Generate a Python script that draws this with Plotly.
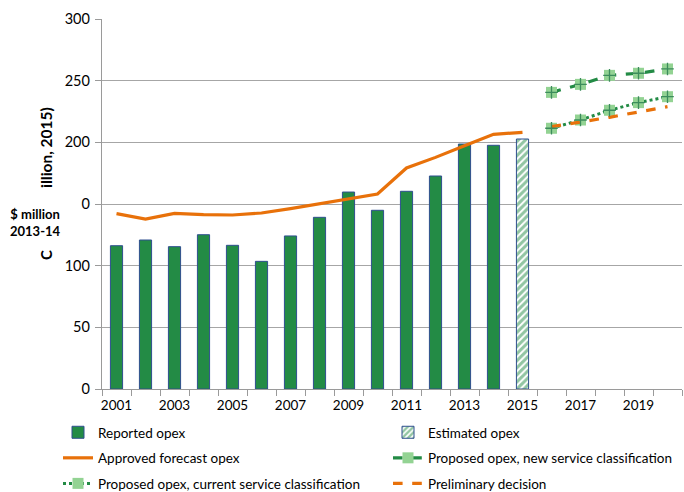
import plotly.graph_objects as go

years_hist = list(range(2001, 2015))
reported_opex = [116.2, 120.8, 115.4, 125.1, 116.5, 103.5, 124.1, 139.2, 159.7, 144.9, 160.3, 172.7, 198.6, 197.6]
est_years = [2015]
estimated_opex = [202.7]
approved_years = list(range(2001, 2016))
approved_forecast = [142.2, 137.8, 142.4, 141.4, 141.1, 142.7, 146.2, 150.3, 154.3, 158.1, 179.2, 187.8, 197.3, 206.5, 208.1]
fc_years = [2016, 2017, 2018, 2019, 2020]
proposed_new = [240.5, 247.0, 254.3, 256.0, 259.5]
proposed_current = [211.4, 218.1, 226.0, 232.2, 237.0]
preliminary = [212.7, 216.2, 220.3, 224.6, 228.9]
x_ticks = list(range(2001, 2021, 2))
y_ticks = [0, 50, 100, 150, 200, 250, 300]
y_ticktext = ["0", "50", "100", "0", "200", "250", "300"]

GREEN = "#238B45"
OUTLINE = "#2F4F8F"
ORANGE = "#E8710A"
LIGHTG = "#93D393"
CROSS = "#3C8C5C"
FONT = "Lato"

W, H = 684, 492
L, R, T, B = 102, 2, 19, 103
pw, ph = W - L - R, H - T - B

def px_x(p):
    return (p - L) / pw

def px_y(p):
    return (H - B - p) / ph

fig = go.Figure()

fig.add_trace(go.Bar(
    x=years_hist, y=reported_opex, name="Reported opex", width=0.42,
    marker=dict(color=GREEN, line=dict(color=OUTLINE, width=1)),
    legend="legend", legendgroup="a",
))
fig.add_trace(go.Scatter(
    x=approved_years, y=approved_forecast, name="Approved forecast opex",
    mode="lines", line=dict(color=ORANGE, width=3.2),
    legend="legend", legendgroup="b",
))
fig.add_trace(go.Scatter(
    x=fc_years, y=proposed_current, name="Proposed opex, current service classification",
    mode="lines+markers", line=dict(color=GREEN, width=3, dash="dot"),
    marker=dict(symbol="square", size=11, color=LIGHTG, line=dict(width=0)),
    legend="legend", legendgroup="c",
))
fig.add_trace(go.Bar(
    x=est_years, y=estimated_opex, name="Estimated opex", width=0.42,
    marker=dict(color="white", line=dict(color=OUTLINE, width=1),
                pattern=dict(shape="/", fgcolor=GREEN, bgcolor="white", size=5, solidity=0.6)),
    legend="legend2", legendgroup="d",
))
fig.add_trace(go.Scatter(
    x=fc_years, y=proposed_new, name="Proposed opex, new service classification",
    mode="lines+markers", line=dict(color=GREEN, width=3.2, dash="dash"),
    marker=dict(symbol="square", size=11, color=LIGHTG, line=dict(width=0)),
    legend="legend2", legendgroup="e",
))
fig.add_trace(go.Scatter(
    x=fc_years, y=preliminary, name="Preliminary decision",
    mode="lines", line=dict(color=ORANGE, width=3.2, dash="dash"),
    legend="legend2", legendgroup="f",
))
# cross glyphs on the forecast markers
for ys in (proposed_new, proposed_current):
    fig.add_trace(go.Scatter(
        x=fc_years, y=ys, mode="markers", showlegend=False, hoverinfo="skip",
        marker=dict(symbol="cross-thin-open", size=9, color=CROSS, line=dict(color=CROSS, width=1.3)),
    ))

fig.update_layout(
    width=W, height=H,
    margin=dict(l=L, r=R, t=T, b=B, autoexpand=False),
    paper_bgcolor="white", plot_bgcolor="white",
    font=dict(family=FONT, size=13, color="#000000"),
    showlegend=True,
    legend=dict(xref="container", yref="container", x=58 / W, y=(H - 417) / H,
                xanchor="left", yanchor="top",
                orientation="v", tracegroupgap=5, font=dict(size=13.5),
                bgcolor="rgba(0,0,0,0)", itemwidth=30),
    legend2=dict(xref="container", yref="container", x=388 / W, y=(H - 417) / H,
                 xanchor="left", yanchor="top",
                 orientation="v", tracegroupgap=5, font=dict(size=13.5),
                 bgcolor="rgba(0,0,0,0)", itemwidth=30),
)

fig.update_xaxes(
    range=[2000.5, 2020.5], tickvals=x_ticks, ticktext=[str(v) for v in x_ticks],
    ticks="", showgrid=False, showline=True, linecolor="#9A9A9A", linewidth=1.3,
    tickfont=dict(size=13.5), ticklabelstandoff=4, zeroline=False,
    minor=dict(tick0=2000.5, dtick=1, ticks="outside", ticklen=6, tickcolor="#9A9A9A", tickwidth=1.3, showgrid=False),
)
fig.update_yaxes(
    range=[0, 300], tickvals=y_ticks, ticktext=y_ticktext,
    ticks="outside", ticklen=6, tickcolor="#9A9A9A", tickwidth=1.3,
    showgrid=True, gridcolor="#A6A6A6", gridwidth=1.3,
    showline=True, linecolor="#9A9A9A", linewidth=1.3, zeroline=False,
    tickfont=dict(size=14.5), ticklabelstandoff=2,
)

fig.add_annotation(text="<b>$ million<br>2013-14</b>", xref="paper", yref="paper",
                   x=px_x(35), y=px_y(223), showarrow=False, font=dict(size=13),
                   align="center", xanchor="center", yanchor="middle")
fig.add_annotation(text="<b>C</b>", xref="paper", yref="paper",
                   x=px_x(46), y=px_y(255), showarrow=False, font=dict(size=15),
                   textangle=-90, xanchor="center", yanchor="middle")
fig.add_annotation(text="<b>illion, 2015)</b>", xref="paper", yref="paper",
                   x=px_x(46), y=px_y(148), showarrow=False, font=dict(size=15.5),
                   textangle=-90, xanchor="center", yanchor="middle")

fig.write_html("out.html", config={"displayModeBar": False},
               post_script="document.body.style.margin='0px';document.body.style.overflow='hidden';")
